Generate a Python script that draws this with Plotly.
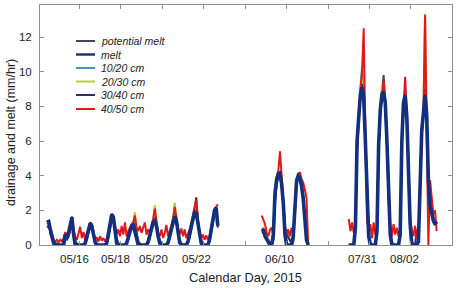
import plotly.graph_objects as go

# ---------------- data (hourly index, 2-hour samples) ----------------
X_A = list(range(11, 218, 2))     # mid-May segment
X_B = list(range(270, 327, 2))    # June segment
X_C = list(range(375, 482, 2))    # late July / early August segment

MELT_A = [1.3,1.35,0.9,0.5,0.1,0,0,0,0,0,
          0,0.6,0.4,0.7,1.2,1.6,0.6,0,0,0,
          0,0,0,0.1,0.5,0.95,1.25,1.1,0.6,0.15,
          0,0,0,0,0,0,0.1,0.6,1.2,1.75,
          1.6,0.8,0.1,0,0,0,0,0,0.1,0.4,
          0.8,1.1,1.15,0.8,0.3,0,0,0,0,0,
          0,0.2,0.6,1.0,1.3,1.4,1.1,0.5,0.1,0,
          0,0,0,0.15,0.5,1.0,1.4,1.65,1.4,0.7,
          0.15,0,0,0,0,0.2,0.6,1.1,1.6,1.9,
          1.85,1.2,0.5,0.1,0,0,0,0,0.3,0.9,
          1.5,2.0,2.15,1.1]
MELT_B = [0.9,0.85,0.5,0.3,0.1,0,0,0.6,3.0,3.8,
          4.1,4.15,3.5,2.4,0.6,0,0,0,0,0.5,
          2.3,3.7,4.0,3.9,3.4,2.7,1.5,0.3,0]
MELT_C = [0,0,0,0,1.0,6.0,7.4,8.7,9.1,8.5,
          6.0,3.0,0.5,0,0,0,0,0.8,5.8,7.8,
          8.7,8.85,8.2,6.0,3.0,0.6,0,0,0,0,
          0,0.6,6.0,8.2,8.65,7.4,4.5,1.2,0,0,
          0,0,0.2,3.0,6.6,7.6,8.65,7.5,3.8,2.3,
          1.8,1.4,1.2,1.35]

POT_A = [1.3,1.4,0.9,0.5,0.1,0,0,0,0,0,
         0,0.6,0.4,0.7,1.2,1.65,0.6,0,0,0,
         0,0,0,0.1,0.5,0.95,1.3,1.1,0.6,0.15,
         0,0,0,0,0,0,0.1,0.6,1.2,1.8,
         1.6,0.8,0.1,0,0,0,0,0,0.1,0.4,
         0.8,1.1,1.2,0.8,0.3,0,0,0,0,0,
         0,0.2,0.6,1.0,1.3,1.45,1.1,0.5,0.1,0,
         0,0,0,0.15,0.5,1.0,1.4,1.7,1.4,0.7,
         0.15,0,0,0,0,0.2,0.6,1.1,1.6,2.0,
         1.85,1.2,0.5,0.1,0,0,0,0,0.3,0.9,
         1.5,2.0,2.2,1.1]
POT_B = [0.9,0.9,0.55,0.3,0.1,0,0,0.7,3.1,3.9,
         4.2,4.2,3.6,2.5,0.7,0,0,0,0,0.5,
         2.4,3.8,4.05,4.0,3.5,2.8,1.6,0.4,0]
POT_C = [0,0,0,0,1.1,6.1,7.5,8.8,9.3,8.6,
         6.1,3.1,0.6,0,0,0,0,0.9,5.9,7.9,
         8.8,9.8,8.3,6.1,3.1,0.7,0,0,0,0,
         0,0.7,6.1,8.3,8.8,7.5,4.6,1.3,0,0,
         0,0,0.3,3.1,6.7,7.7,8.8,7.6,3.9,2.4,
         1.9,1.5,1.3,1.4]

D1020_A = [1.2,1.3,1.0,0.6,0.3,0.15,0.1,0.05,0,0,
           0,0.5,0.5,0.6,1.0,1.4,0.9,0.3,0.1,0,
           0,0,0,0.1,0.4,0.9,1.2,1.1,0.7,0.3,
           0.1,0,0,0,0,0,0.1,0.5,1.1,1.6,
           1.6,1.0,0.4,0.1,0,0,0,0,0.1,0.5,
           0.9,1.2,1.35,1.1,0.6,0.2,0.05,0,0,0,
           0,0.2,0.6,1.1,1.5,1.6,1.3,0.7,0.3,0.1,
           0,0,0,0.2,0.6,1.1,1.6,1.9,1.6,0.9,
           0.3,0.1,0,0,0,0.2,0.6,1.1,1.6,1.85,
           1.8,1.3,0.7,0.3,0.1,0,0,0,0.3,0.8,
           1.3,1.8,2.0,1.3]
D1020_B = [0.95,0.9,0.7,0.5,0.3,0.15,0.1,0.5,2.8,3.7,
           4.0,4.1,3.6,2.6,1.0,0.8,0.5,0.3,0.1,0.4,
           2.1,3.6,4.0,3.9,3.5,2.8,1.7,0.6,0.1]
D1020_C = [0,0,0,0,1.2,5.8,7.6,9.2,10.3,8.8,
           6.2,3.3,0.8,0.2,0,0,0,0.9,5.7,7.9,
           8.9,9.0,8.3,6.1,3.2,0.8,0.2,0,0,0,
           0,0.7,5.9,8.2,8.7,7.5,4.7,1.4,0.3,0,
           0,0,0.3,3.2,6.5,7.7,8.8,7.6,4.0,2.5,
           1.9,1.5,1.3,1.4]

D2030_A = [1.1,1.2,0.9,0.5,0.25,0.1,0.05,0,0,0,
           0,0.4,0.4,0.5,0.9,1.3,0.8,0.3,0.1,0,
           0,0,0,0.1,0.4,0.8,1.1,1.0,0.6,0.2,
           0.1,0,0,0,0,0,0.1,0.5,1.0,1.5,
           1.5,0.9,0.3,0.1,0,0,0,0,0.1,0.4,
           0.8,1.1,1.3,1.9,0.8,0.3,0.1,0,0,0,
           0,0.2,0.5,1.0,1.4,2.3,1.2,0.6,0.2,0.1,
           0,0,0,0.2,0.5,1.0,1.5,2.45,1.5,0.8,
           0.3,0.1,0,0,0,0.2,0.5,1.0,1.5,1.8,
           1.9,1.2,0.6,0.2,0.1,0,0,0,0.3,0.8,
           1.3,2.1,1.9,1.2]
D2030_B = [0.8,1.0,0.7,0.5,0.3,0.15,0.1,0.3,2.5,3.6,
           4.0,4.1,3.6,2.6,1.0,0.8,0.5,0.3,0.1,0.3,
           2.0,3.6,4.0,3.9,3.4,2.8,1.6,0.5,0]
D2030_C = [0,0,0,0,1.0,5.7,7.3,8.9,9.6,8.6,
           6.0,3.0,0.7,0.1,0,0,0,0.8,5.6,7.8,
           9.2,9.3,8.2,6.0,3.0,0.7,0.1,0,0,0,
           0,0.6,5.8,8.1,9.0,7.4,4.6,1.3,0.2,0,
           0,0,0.2,3.0,6.4,7.6,13.35,7.0,3.0,3.75,
           2.0,1.5,1.2,1.3]

D3040_A = [1.0,1.1,0.8,0.4,0.2,0.1,0,0,0,0,
           0,0.3,0.3,0.5,0.9,1.2,0.7,0.2,0.05,0,
           0,0,0,0.1,0.3,0.7,1.0,0.9,0.5,0.2,
           0,0,0,0,0,0,0.1,0.4,0.9,1.4,
           1.4,0.8,0.3,0.1,0,0,0,0,0.1,0.3,
           0.7,1.0,1.1,1.2,0.7,0.2,0.05,0,0,0,
           0,0.1,0.4,0.9,1.2,1.4,1.0,0.5,0.2,0.05,
           0,0,0,0.1,0.4,0.9,1.3,1.6,1.3,0.7,
           0.2,0.05,0,0,0,0.1,0.4,0.9,1.5,2.0,
           2.75,1.4,0.6,0.2,0.05,0,0,0,0.2,0.7,
           1.2,1.8,2.0,1.0]
D3040_B = [0.7,0.7,0.5,0.3,0.2,0.1,0.05,0.3,2.4,3.5,
           3.9,4.0,3.5,2.5,0.9,0.6,0.4,0.2,0.1,0.2,
           1.9,3.5,3.9,3.8,3.3,2.7,1.5,0.5,0]
D3040_C = [0,0,0,0,0.9,5.6,7.2,8.6,9.3,8.4,
           5.9,2.9,0.6,0.1,0,0,0,0.7,5.5,7.7,
           8.6,9.0,8.1,5.9,2.9,0.6,0.1,0,0,0,
           0,0.5,5.7,8.0,8.6,7.3,4.4,1.2,0.2,0,
           0,0.9,0.2,2.9,6.3,7.5,9.0,7.3,3.7,2.3,
           1.8,1.4,1.2,1.3]

D4050_A = [1.4,1.3,0.6,0.35,0.25,0.2,0.3,0.15,0.3,0.2,
           0.4,0.75,0.5,0.85,1.3,1.6,0.9,0.5,0.3,0.7,
           1.05,0.4,0.75,0.3,0.6,1.0,1.3,1.2,0.7,0.3,
           0.45,0.2,0.5,0.25,0.4,0.2,0.35,0.7,1.3,1.8,
           1.7,1.0,0.6,0.9,0.5,1.1,0.6,1.3,0.5,0.8,
           1.0,1.2,1.3,1.7,1.0,0.8,1.1,0.7,1.0,1.3,
           0.6,0.9,0.7,1.1,1.5,2.1,1.3,0.7,0.5,0.9,
           0.4,0.7,1.15,0.5,0.8,1.1,1.5,2.2,1.6,0.9,
           0.6,0.95,0.5,0.9,0.4,0.6,0.9,1.3,1.8,2.2,
           2.6,1.5,0.7,0.4,0.6,0.3,0.55,0.3,0.5,1.0,
           1.6,2.0,2.2,2.35]
D4050_B = [1.7,1.5,1.2,0.7,0.5,0.9,1.0,0.5,3.0,3.9,
           4.3,5.4,3.75,2.1,1.1,0.6,0.9,0.5,1.0,0.6,
           2.4,3.8,4.1,4.2,3.8,3.6,3.2,2.7,0]
D4050_C = [1.5,0.8,1.3,0.7,1.2,5.5,7.0,9.0,10.0,12.5,
           6.4,1.4,0.8,1.2,0.4,1.3,0.6,1.0,5.5,7.6,
           8.6,9.5,8.0,6.0,2.5,1.2,0.5,1.2,0.6,1.0,
           0.5,0.9,6.0,8.0,9.7,7.5,5.0,1.5,0.9,0.5,
           1.1,0.4,0.9,3.5,6.5,7.5,13.27,6.5,0,3.75,
           2.5,1.8,2.0,0.8]

SERIES_NAMES = ["potential melt", "melt", "10/20 cm", "20/30 cm", "30/40 cm", "40/50 cm"]
DATE_LABELS = ["05/16", "05/18", "05/20", "05/22", "06/10", "07/31", "08/02"]
DATE_POS = [43.8, 94.1, 139.4, 191.7, 292, 392, 442.3]
X_TICKS = [50, 100, 150, 200, 250, 300, 350, 400, 450]
Y_TICKS = [0, 2, 4, 6, 8, 10, 12]

# ---------------- styling ----------------
COLORS = {"potential melt": "#46465e", "melt": "#13307f", "10/20 cm": "#4a92c6",
          "20/30 cm": "#b7cf2c", "30/40 cm": "#3b2a60", "40/50 cm": "#e2191b"}
WIDTHS = {"potential melt": 2, "melt": 3.6, "10/20 cm": 2, "20/30 cm": 2,
          "30/40 cm": 2, "40/50 cm": 2}
FONT = "Liberation Sans, Arial, sans-serif"

def join(a, b, c):
    return a + [None] + b + [None] + c

X_ALL = join(X_A, X_B, X_C)
DATA = {
    "potential melt": join(POT_A, POT_B, POT_C),
    "melt": join(MELT_A, MELT_B, MELT_C),
    "10/20 cm": join(D1020_A, D1020_B, D1020_C),
    "20/30 cm": join(D2030_A, D2030_B, D2030_C),
    "30/40 cm": join(D3040_A, D3040_B, D3040_C),
    "40/50 cm": join(D4050_A, D4050_B, D4050_C),
}

fig = go.Figure()
draw_order = ["potential melt", "10/20 cm", "20/30 cm", "30/40 cm", "40/50 cm", "melt"]
for name in draw_order:
    fig.add_trace(go.Scatter(x=X_ALL, y=DATA[name], mode="lines", name=name,
                             line=dict(color=COLORS[name], width=WIDTHS[name]),
                             showlegend=False, connectgaps=False))

W, H = 459, 288
ML, MR, MT, MB = 40, 7, 5, 43
PW, PH = W - ML - MR, H - MT - MB

def px_x(px):
    return (px - ML) / PW

def px_y(py):
    return (H - MB - py) / PH

annotations = []
shapes = []
# custom legend (no box) in upper left
LEG_Y = [41, 54.5, 68, 81.5, 95, 109]
for name, py in zip(SERIES_NAMES, LEG_Y):
    shapes.append(dict(type="line", xref="paper", yref="paper",
                       x0=px_x(76), x1=px_x(95), y0=px_y(py), y1=px_y(py),
                       line=dict(color=COLORS[name], width=2 if name != "melt" else 2.4)))
    annotations.append(dict(text=name, xref="paper", yref="paper", x=px_x(99), y=px_y(py),
                            xanchor="left", yanchor="middle", showarrow=False,
                            font=dict(family=FONT, size=10.5, color="#222222", style="italic")))
# date labels under the axis
for lab, xv in zip(DATE_LABELS, DATE_POS):
    annotations.append(dict(text=lab, xref="x", yref="paper", x=xv, y=px_y(259),
                            xanchor="center", yanchor="middle", showarrow=False,
                            font=dict(family=FONT, size=11.5, color="#222222")))
annotations.append(dict(text="Calendar Day, 2015", xref="paper", yref="paper",
                        x=px_x(245), y=px_y(277), xanchor="center", yanchor="middle",
                        showarrow=False, font=dict(family=FONT, size=12.8, color="#222222")))
annotations.append(dict(text="drainage and melt (mm/hr)", xref="paper", yref="paper",
                        x=px_x(11), y=px_y(133), xanchor="center", yanchor="middle",
                        textangle=-90, showarrow=False,
                        font=dict(family=FONT, size=12.5, color="#222222")))

AX_COL = "#8f8f8f"
fig.update_layout(
    width=W, height=H,
    margin=dict(l=ML, r=MR, t=MT, b=MB, pad=0),
    paper_bgcolor="white", plot_bgcolor="white",
    showlegend=False,
    annotations=annotations, shapes=shapes,
    xaxis=dict(range=[2.5, 499.5], tickvals=X_TICKS, showticklabels=False,
               ticks="inside", ticklen=4, tickcolor=AX_COL, tickwidth=1,
               showline=True, linecolor=AX_COL, linewidth=1, mirror="ticks",
               showgrid=False, zeroline=False),
    yaxis=dict(range=[0, 13.85], tickvals=Y_TICKS,
               ticks="inside", ticklen=4, tickcolor=AX_COL, tickwidth=1,
               showline=True, linecolor=AX_COL, linewidth=1, mirror="ticks",
               showgrid=False, zeroline=False, ticklabelstandoff=5,
               tickfont=dict(family=FONT, size=11.5, color="#222222")),
)

# remove the page's default body margin so the figure sits at the window origin
fig.write_html("out.html",
               config={"displayModeBar": False, "staticPlot": True},
               post_script="document.body.style.margin='0';document.body.style.overflow='hidden';")
